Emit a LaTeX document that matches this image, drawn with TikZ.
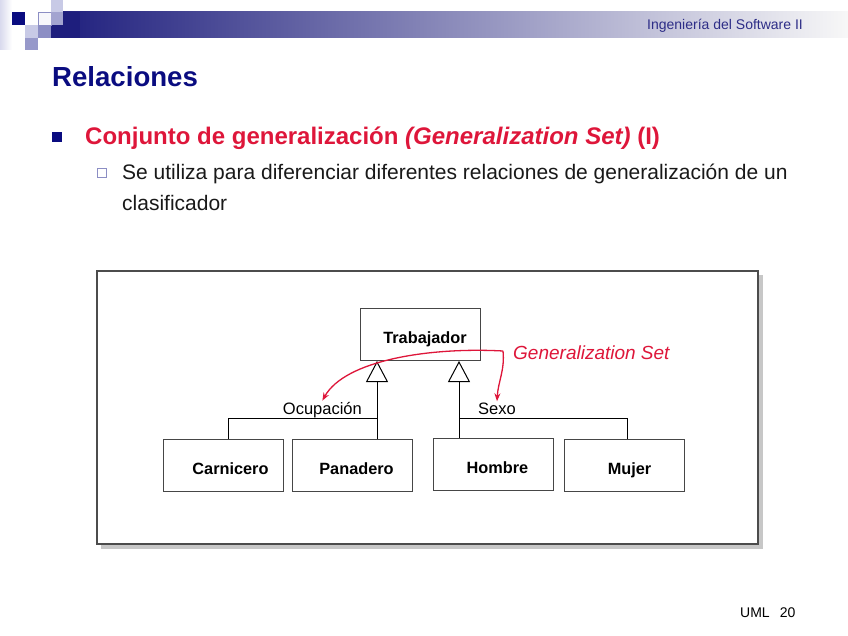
\documentclass[tikz,border=0pt]{standalone}
\usepackage{fontspec}
\setmainfont{Liberation Sans}
\usetikzlibrary{arrows.meta,calc}
\definecolor{navy}{RGB}{10,12,128}
\definecolor{barnavy}{RGB}{30,30,125}
\definecolor{crimson}{RGB}{222,22,58}
\definecolor{lav}{RGB}{200,202,230}
\definecolor{lavmid}{RGB}{140,142,196}
\definecolor{hdr}{RGB}{45,45,135}
\definecolor{boxgray}{RGB}{70,70,70}
\begin{document}
\begin{tikzpicture}[x=1pt,y=-1pt,
  cls/.style={draw=boxgray,line width=1pt,fill=white,minimum width=120pt,minimum height=52pt,
    inner sep=0pt,text height=18.5pt,text depth=0pt,font=\fontsize{16.3}{18}\selectfont\bfseries},
  conn/.style={draw=black,line width=1pt},
  gen/.style={conn,-{Triangle[open,length=21pt,width=22pt,line width=1pt]}},
  gsarrow/.style={draw=crimson,line width=1.3pt,-{Stealth[length=8pt,width=6pt]}},
  lbl/.style={font=\fontsize{16.5}{18}\selectfont,inner sep=0pt},
  txt/.style={inner sep=0pt,anchor=base west}
]
\useasboundingbox (0,0) rectangle (848,636);
% header decoration
\shade[left color=lav!70, right color=white] (0,0) rectangle (12,50);
\shade[left color=barnavy, right color=white!94!gray] (51,12) rectangle (848,38);
\fill[barnavy] (51,12) rectangle (80,38);
\fill[navy] (12,12) rectangle (25,25);
\fill[lav] (51,0) rectangle (63,12);
\fill[white!85!lav,draw=lavmid,line width=0.6pt] (38,12) rectangle (51,25);
\fill[lavmid!80] (51,12) rectangle (63,25);
\fill[lav] (25,25) rectangle (38,38);
\fill[lavmid] (38,25) rectangle (51,38);
\fill[lavmid!90] (25,38) rectangle (38,50);
\node[txt,text=hdr,font=\fontsize{14}{16}\selectfont] (hdrtext) at (647,30) {Ingeniería del Software II};
% title
\node[txt,text=navy,font=\fontsize{27.6}{30}\selectfont\bfseries] (title) at (52,87) {Relaciones};
% bullet 1
\fill[navy] (52,132) rectangle (62,142);
\node[txt,text=crimson,font=\fontsize{24}{28}\selectfont\bfseries] (head) at (85,145)
  {Conjunto de generalización \textit{(Generalization Set)} (I)};
% bullet 2
\draw[lavmid,line width=0.7pt] (97.5,168.5) rectangle (106.5,177.5);
\node[txt,text=black!90,font=\fontsize{21}{31}\selectfont] (body) at (122,180)
  {Se utiliza para diferenciar diferentes relaciones de generalización de un};
\node[txt,text=black!90,font=\fontsize{21}{31}\selectfont] (body2) at (122,211) {clasificador};
% frame
\fill[black!22] (101,275) rectangle (763,549);
\draw[fill=white,draw=black!70,line width=1.6pt] (97,271) rectangle (758,544);
% classes
\node[cls] (trab) at (420,334.5) {\hspace*{10pt}Trabajador};
\node[cls] (carn) at (223.5,465) {\hspace*{14pt}Carnicero};
\node[cls] (pan) at (352.5,465) {\hspace*{8pt}Panadero};
\node[cls] (homb) at (493.5,464) {\hspace*{8pt}Hombre};
\node[cls] (muj) at (624,465) {\hspace*{11pt}Mujer};
% junctions
\coordinate (jL) at (377,418);
\coordinate (jR) at (459,418);
\coordinate (cA) at (228,418);
\coordinate (cM) at (627,418);
\draw[conn] (carn.north -| cA) -- (cA) -- (jL);
\draw[gen] (pan.north -| jL) -- (trab.south -| jL);
\draw[gen] (homb.north -| jR) -- (trab.south -| jR);
\draw[conn] (muj.north -| cM) -- (cM) -- (jR);
% labels
\node[lbl,anchor=base east] (ocup) at (362,414) {Ocupación};
\node[lbl,anchor=base west] (sexo) at (478,414) {Sexo};
% generalization set
\node[txt,text=crimson,font=\fontsize{19}{22}\selectfont\itshape] (gsl) at (513,359) {Generalization Set};
\coordinate (gs) at (503,351);
\draw[gsarrow] (gs) .. controls (430,347) and (345,360) .. ([yshift=1pt]ocup.north);
\draw[gsarrow] (gs) .. controls (505,370) and (498,382) .. ([yshift=1pt]sexo.north);
% footer
\node[txt,font=\fontsize{14}{16}\selectfont] (foot) at (740,617) {UML\hspace{10pt}20};
\end{tikzpicture}
\end{document}
